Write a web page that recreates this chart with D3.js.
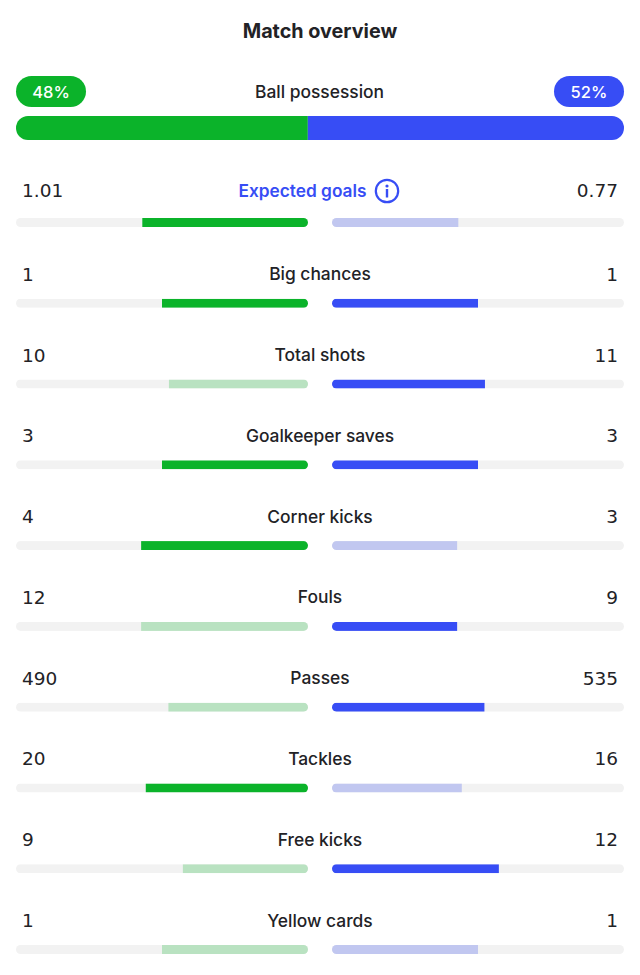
<!DOCTYPE html>
<html>
<head>
<meta charset="utf-8">
<script src="https://cdn.jsdelivr.net/npm/d3@7"></script>
<style>
  html, body { margin: 0; padding: 0; background: #fff; }
  svg { display: block; }
  text { fill: #222226; font-family: "Inter", sans-serif; }
  .title { font-size: 19.8px; font-weight: 700; }
  .label { font-size: 17.4px; font-weight: 450; }
  .value { font-size: 18.5px; font-family: "DejaVu Sans", sans-serif; }
</style>
</head>
<body>
<svg id="chart" width="640" height="975"></svg>
<script>
const GREEN = "#0bb32a";
const BLUE = "#374df5";
const LIGHT_GREEN = "#b9e2c1";
const LIGHT_BLUE = "#c1c7f0";
const TRACK = "#f2f2f2";

const possession = [48, 52];

const categories = ["Expected goals", "Big chances", "Total shots", "Goalkeeper saves", "Corner kicks", "Fouls", "Passes", "Tackles", "Free kicks", "Yellow cards"];
const homeValues = [1.01, 1, 10, 3, 4, 12, 490, 20, 9, 1];
const awayValues = [0.77, 1, 11, 3, 3, 9, 535, 16, 12, 1];
const homeLabels = ["1.01", "1", "10", "3", "4", "12", "490", "20", "9", "1"];
const awayLabels = ["0.77", "1", "11", "3", "3", "9", "535", "16", "12", "1"];
// which side got the strong colour in each row
const homeStrong = [true, true, false, true, true, false, false, true, false, false];
const awayStrong = [false, true, true, true, false, true, true, false, true, false];

const LEFT = 16, RIGHT = 624, BAR_W = 292, BAR_H = 9;

const svg = d3.select("#chart");
const defs = svg.append("defs");

svg.append("text")
  .attr("class", "title")
  .attr("x", 320)
  .attr("y", 38)
  .attr("text-anchor", "middle")
  .text("Match overview");

// Ball possession
const pillW = 70, pillH = 31, pillY = 76;
[[LEFT, GREEN, possession[0]], [RIGHT - pillW, BLUE, possession[1]]].forEach(([x, color, v]) => {
  svg.append("rect")
    .attr("x", x).attr("y", pillY)
    .attr("width", pillW).attr("height", pillH)
    .attr("rx", pillH / 2)
    .attr("fill", color);
  svg.append("text")
    .attr("x", x + pillW / 2)
    .attr("y", pillY + 21.5)
    .attr("text-anchor", "middle")
    .style("fill", "#fff")
    .style("font-size", "16.5px")
    .style("font-weight", 500)
    .text(v + "%");
});

svg.append("text")
  .attr("class", "label")
  .attr("x", 319.5)
  .attr("y", 97.5)
  .attr("text-anchor", "middle")
  .text("Ball possession");

const possX = d3.scaleLinear().domain([0, 100]).range([LEFT, RIGHT]);

defs.append("clipPath").attr("id", "possClip")
  .append("rect")
  .attr("x", LEFT).attr("y", 116)
  .attr("width", RIGHT - LEFT).attr("height", 24)
  .attr("rx", 12);

const poss = svg.append("g").attr("clip-path", "url(#possClip)");
poss.append("rect")
  .attr("x", possX(0)).attr("y", 116)
  .attr("width", possX(possession[0]) - possX(0)).attr("height", 24)
  .attr("fill", GREEN);
poss.append("rect")
  .attr("x", possX(possession[0])).attr("y", 116)
  .attr("width", possX(100) - possX(possession[0])).attr("height", 24)
  .attr("fill", BLUE);

// Stat rows
const rowY = d3.scalePoint().domain(categories).range([218, 945]);

defs.append("clipPath").attr("id", "leftClip")
  .append("rect")
  .attr("x", LEFT).attr("width", BAR_W).attr("height", BAR_H).attr("rx", BAR_H / 2);
defs.append("clipPath").attr("id", "rightClip")
  .append("rect")
  .attr("x", RIGHT - BAR_W).attr("width", BAR_W).attr("height", BAR_H).attr("rx", BAR_H / 2);

categories.forEach((name, i) => {
  const g = svg.append("g").attr("transform", `translate(0,${rowY(name)})`);
  const total = homeValues[i] + awayValues[i];
  const w = d3.scaleLinear().domain([0, total]).range([0, BAR_W]);
  // the first row has a bit more room under its text
  const textY = i === 0 ? -21 : -18;

  g.append("text")
    .attr("class", "value")
    .attr("x", 22).attr("y", textY)
    .text(homeLabels[i]);
  g.append("text")
    .attr("class", "value")
    .attr("x", 618).attr("y", textY)
    .attr("text-anchor", "end")
    .text(awayLabels[i]);

  const label = g.append("text")
    .attr("class", "label")
    .attr("x", i === 0 ? 302.5 : 320)
    .attr("y", textY - 0.5)
    .attr("text-anchor", "middle")
    .text(name);

  if (i === 0) {
    label.style("fill", BLUE).style("font-weight", 600).style("font-size", "17.3px");
    const icon = g.append("g").attr("transform", "translate(387,-27)");
    icon.append("circle").attr("r", 11.2).attr("fill", "none").attr("stroke", BLUE).attr("stroke-width", 2.2);
    icon.append("circle").attr("cy", -5).attr("r", 1.6).attr("fill", BLUE);
    icon.append("rect").attr("x", -1.2).attr("y", -2).attr("width", 2.4).attr("height", 8.5).attr("fill", BLUE);
  }

  const left = g.append("g").attr("clip-path", "url(#leftClip)");
  left.append("rect").attr("x", LEFT).attr("width", BAR_W).attr("height", BAR_H).attr("fill", TRACK);
  left.append("rect")
    .attr("x", LEFT + BAR_W - w(homeValues[i]))
    .attr("width", w(homeValues[i]))
    .attr("height", BAR_H)
    .attr("fill", homeStrong[i] ? GREEN : LIGHT_GREEN);

  const right = g.append("g").attr("clip-path", "url(#rightClip)");
  right.append("rect").attr("x", RIGHT - BAR_W).attr("width", BAR_W).attr("height", BAR_H).attr("fill", TRACK);
  right.append("rect")
    .attr("x", RIGHT - BAR_W)
    .attr("width", w(awayValues[i]))
    .attr("height", BAR_H)
    .attr("fill", awayStrong[i] ? BLUE : LIGHT_BLUE);
});
</script>
</body>
</html>
